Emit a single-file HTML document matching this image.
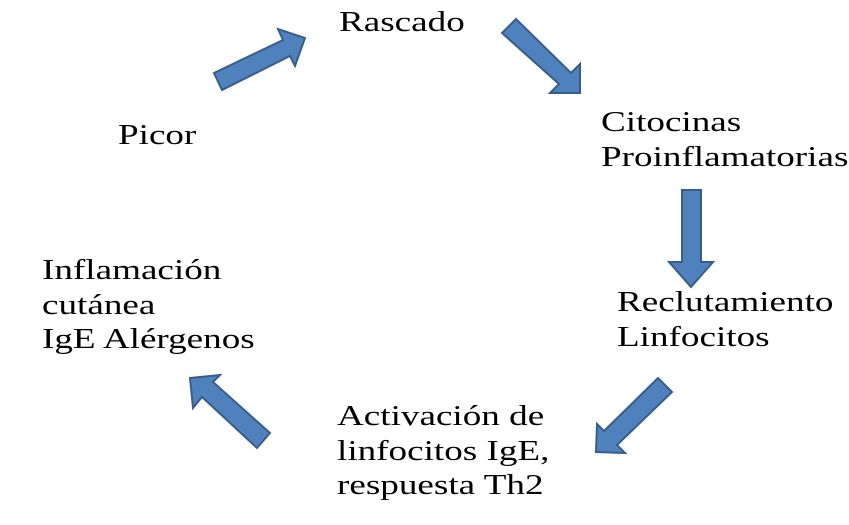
<!DOCTYPE html>
<html><head><meta charset="utf-8"><style>
html,body{margin:0;padding:0;background:#fff;}
body{width:849px;height:525px;position:relative;overflow:hidden;font-family:"Liberation Serif","Noto Serif CJK SC",serif;font-size:29px;color:#000;}
.t{position:absolute;line-height:34.5px;white-space:nowrap;transform:scaleX(1.28);transform-origin:0 0;}
svg{position:absolute;left:0;top:0;}
</style></head><body>
<svg width="849" height="525"><g fill="#4f81bd" stroke="#385d8a" stroke-width="2" stroke-linejoin="miter">
<polygon points="214,73 283,40 278,29 305,38 295,66 290,56 222,90"/>
<polygon points="502,33 516,19 571,73 580,64 580,93 550,93 559,84"/>
<polygon points="682,190 701,190 701,262 713,262 691,287 669,262 682,262"/>
<polygon points="658,378 672,392 617,445 625,453 596,452 597,424 604,431"/>
<polygon points="190,378 220,375 213,382 270,433 257,448 202,397 193,408"/>
</g></svg>
<div class="t" style="left:339px;top:5px">Rascado</div>
<div class="t" style="left:118px;top:118px">Picor</div>
<div class="t" style="left:601px;top:105px">Citocinas<br>Proinflamatorias</div>
<div class="t" style="left:617px;top:285px">Reclutamiento<br>Linfocitos</div>
<div class="t" style="left:337px;top:399px">Activación de<br>linfocitos IgE,<br>respuesta Th2</div>
<div class="t" style="left:42px;top:253px">Inflamación<br>cutánea<br>IgE Alérgenos</div>
</body></html>
